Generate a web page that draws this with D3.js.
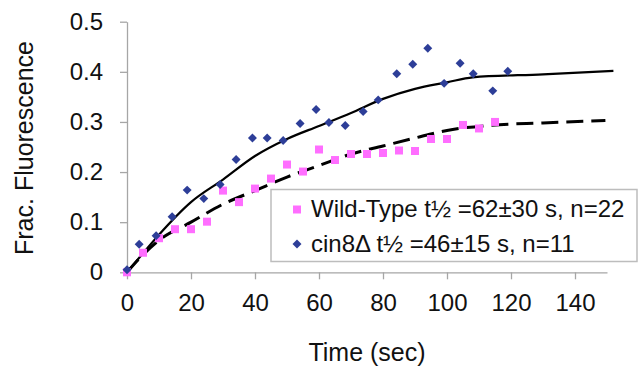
<!DOCTYPE html>
<html>
<head>
<meta charset="utf-8">
<script src="https://cdn.jsdelivr.net/npm/d3@7"></script>
<style>
  body { margin: 0; background: #fff; }
  text { font-family: "Liberation Sans", Arial, sans-serif; fill: #111; }
  .axis path, .axis line { stroke: #a6a6a6; stroke-width: 1.3px; }
</style>
</head>
<body>
<div id="chart"></div>
<script>
// wild-type (pink squares)
var wtTime = [0, 5, 10, 15, 20, 25, 30, 35, 40, 45, 50, 55, 60, 65, 70, 75, 80, 85, 90, 95, 100, 105, 110, 115];
var wtFrac = [0, 0.039, 0.068, 0.086, 0.086, 0.101, 0.163, 0.140, 0.167, 0.187, 0.215, 0.201, 0.245, 0.224, 0.236, 0.236, 0.238, 0.243, 0.242, 0.266, 0.266, 0.294, 0.287, 0.300];

// cin8 delta (blue diamonds)
var cinTime = [0, 3.8, 9.1, 14.1, 18.8, 24.0, 29.1, 34.1, 39.2, 43.8, 48.8, 54.1, 59.1, 63.1, 68.2, 73.8, 78.5, 84.3, 89.3, 94.0, 99.1, 104.1, 108.2, 114.3, 119.0];
var cinFrac = [0.005, 0.056, 0.073, 0.111, 0.164, 0.147, 0.175, 0.225, 0.268, 0.268, 0.263, 0.297, 0.325, 0.299, 0.293, 0.321, 0.344, 0.396, 0.415, 0.447, 0.377, 0.417, 0.396, 0.362, 0.401];

// fitted curves
var cinFitTime = [0, 5, 10, 20, 30, 40, 50, 60, 70, 80, 90, 100, 108, 130, 152];
var cinFitFrac = [0, 0.038, 0.075, 0.14, 0.185, 0.232, 0.266, 0.292, 0.318, 0.346, 0.366, 0.379, 0.389, 0.395, 0.402];
var wtFitTime = [0, 5, 10, 20, 30, 40, 50, 60, 70, 80, 90, 100, 113, 130, 149.5];
var wtFitFrac = [0, 0.035, 0.064, 0.1, 0.136, 0.163, 0.19, 0.213, 0.236, 0.252, 0.268, 0.283, 0.293, 0.298, 0.303];

var xTicks = [0, 20, 40, 60, 80, 100, 120, 140];
var yTicks = [0, 0.1, 0.2, 0.3, 0.4, 0.5];
var yTickLabels = ["0", "0.1", "0.2", "0.3", "0.4", "0.5"];

var legendLabels = ["Wild-Type t\u00BD =62\u00B130 s, n=22", "cin8\u0394 t\u00BD =46\u00B115 s, n=11"];

var width = 642,
    height = 371;

var pink = "#ff6eff",
    blue = "#2d3e98";

var svg = d3.select("#chart")
  .append("svg")
  .attr("width", width)
  .attr("height", height);

var xScale = d3.scaleLinear().domain([0, 150]).range([127, 607]);
var yScale = d3.scaleLinear().domain([0, 0.5]).range([272.3, 21.7]);

//Axes
var xAxis = d3.axisBottom(xScale)
  .tickValues(xTicks)
  .tickSize(7)
  .tickSizeOuter(0)
  .tickPadding(15);

var yAxis = d3.axisLeft(yScale)
  .tickValues(yTicks)
  .tickFormat(function(d, i) { return yTickLabels[i]; })
  .tickSize(7)
  .tickSizeOuter(0)
  .tickPadding(17);

svg.append("g")
  .attr("class", "axis")
  .attr("transform", "translate(0," + yScale(0) + ")")
  .call(xAxis)
  .selectAll("text")
  .style("font-size", "24px");

svg.append("g")
  .attr("class", "axis")
  .attr("transform", "translate(" + xScale(0) + ",0)")
  .call(yAxis)
  .selectAll("text")
  .style("font-size", "24px");

svg.selectAll(".axis text").attr("fill", "#111");

//Axis titles
svg.append("text")
  .attr("x", 367)
  .attr("y", 361)
  .attr("text-anchor", "middle")
  .style("font-size", "25px")
  .text("Time (sec)");

svg.append("text")
  .attr("transform", "translate(33,148) rotate(-90)")
  .attr("text-anchor", "middle")
  .style("font-size", "25px")
  .text("Frac. Fluorescence");

//Fit lines
var line = d3.line()
  .curve(d3.curveMonotoneX)
  .x(function(d) { return xScale(d[0]); })
  .y(function(d) { return yScale(d[1]); });

svg.append("path")
  .datum(d3.zip(wtFitTime, wtFitFrac))
  .attr("d", line)
  .attr("fill", "none")
  .attr("stroke", "#000")
  .attr("stroke-width", 3)
  .attr("stroke-dasharray", "17,8");

svg.append("path")
  .datum(d3.zip(cinFitTime, cinFitFrac))
  .attr("d", line)
  .attr("fill", "none")
  .attr("stroke", "#000")
  .attr("stroke-width", 2.2);

//Markers
var square = d3.symbol().type(d3.symbolSquare).size(64);
var diamond = d3.symbol().type(d3.symbolSquare).size(40);

svg.append("g")
  .selectAll("path")
  .data(d3.zip(wtTime, wtFrac))
  .enter()
  .append("path")
  .attr("d", square)
  .attr("transform", function(d) { return "translate(" + xScale(d[0]) + "," + yScale(d[1]) + ")"; })
  .attr("fill", pink);

svg.append("g")
  .selectAll("path")
  .data(d3.zip(cinTime, cinFrac))
  .enter()
  .append("path")
  .attr("d", diamond)
  .attr("transform", function(d) { return "translate(" + xScale(d[0]) + "," + yScale(d[1]) + ") rotate(45)"; })
  .attr("fill", blue);

//Legend
var legend = svg.append("g").attr("transform", "translate(271,189.5)");

legend.append("rect")
  .attr("width", 366)
  .attr("height", 72)
  .attr("fill", "#fff")
  .attr("stroke", "#bdbdbd")
  .attr("stroke-width", 1.5);

legend.append("path")
  .attr("d", square)
  .attr("transform", "translate(26,20)")
  .attr("fill", pink);

legend.append("path")
  .attr("d", diamond)
  .attr("transform", "translate(26,54.5) rotate(45)")
  .attr("fill", blue);

legend.selectAll("text")
  .data(legendLabels)
  .enter()
  .append("text")
  .attr("x", 40)
  .attr("y", function(d, i) { return 27 + i * 35; })
  .style("font-size", "24px")
  .text(function(d) { return d; });
</script>
</body>
</html>
